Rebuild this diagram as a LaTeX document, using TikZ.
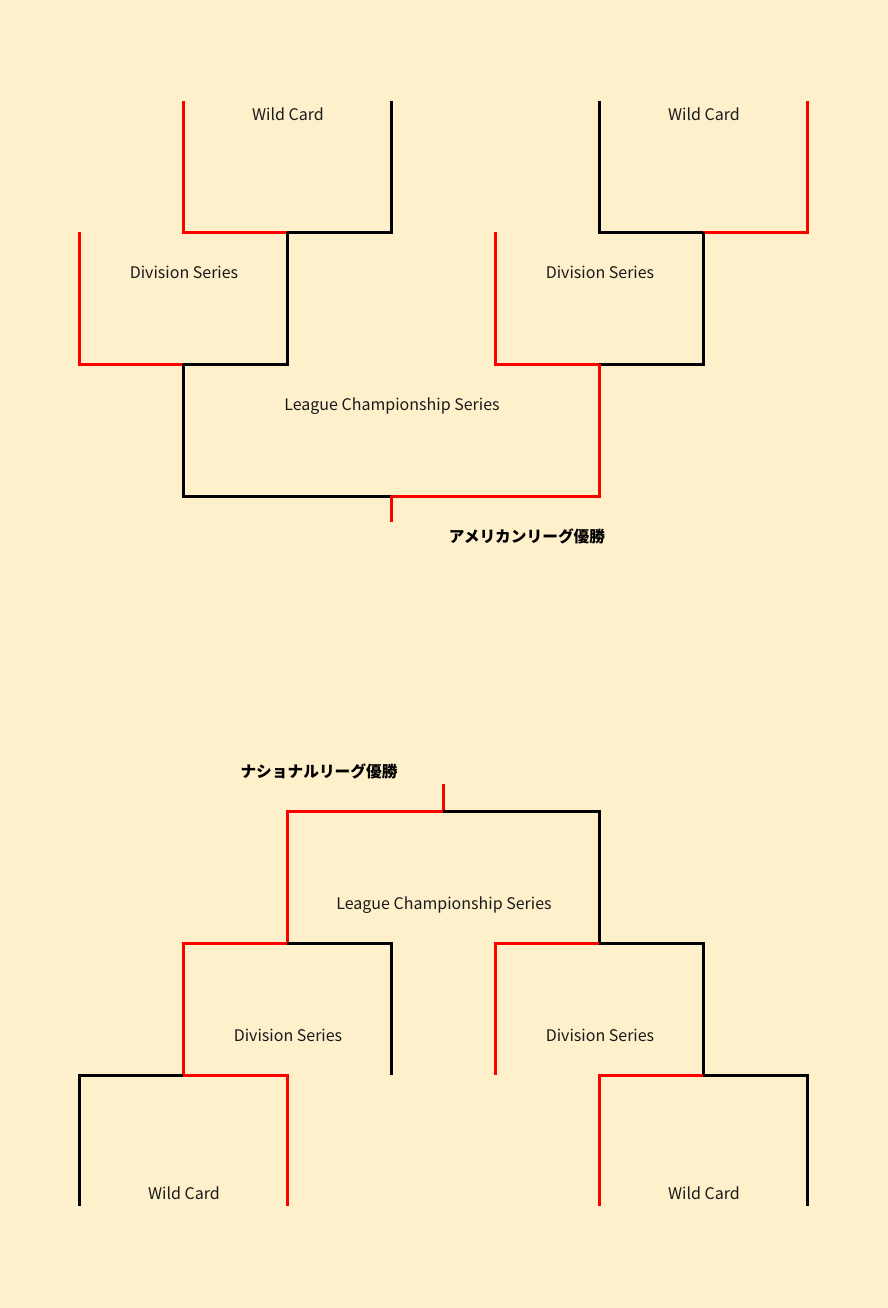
\documentclass[tikz,border=0pt]{standalone}
\usepackage{fontspec}
\setmainfont{Noto Sans CJK JP}
\definecolor{bg}{HTML}{FFF0CC}
\definecolor{win}{HTML}{FF0000}
\definecolor{txt}{HTML}{1A1A1A}
\begin{document}
\begin{tikzpicture}[x=1pt,y=-1pt,
  lose/.style={draw=black,line width=3pt,line join=miter},
  wins/.style={draw=win,line width=3pt,line join=miter},
  lbl/.style={font=\fontsize{16}{18}\selectfont,text=txt,inner sep=0pt},
  champ/.style={font=\fontsize{15.7}{18}\selectfont\bfseries,text=black,inner sep=0pt}]
\fill[bg] (0,0) rectangle (888,1308);
\useasboundingbox (0,0) rectangle (888,1308);
% ---------- American League ----------
% Wild Card left
\draw[wins] (183,101) -- (183,232) -- (287,232);
\draw[lose] (287,232) -- (391,232) -- (391,101);
\node[lbl] (wc1) at (288,114) {Wild Card};
% Wild Card right
\draw[lose] (599,101) -- (599,232) -- (703,232);
\draw[wins] (703,232) -- (807,232) -- (807,101);
\node[lbl] (wc2) at (704,114) {Wild Card};
% Division Series left
\draw[wins] (79,232) -- (79,364) -- (183,364);
\draw[lose] (183,364) -- (287,364) -- (287,232);
\node[lbl] (ds1) at (184,272) {Division Series};
% Division Series right
\draw[wins] (495,232) -- (495,364) -- (599,364);
\draw[lose] (599,364) -- (703,364) -- (703,232);
\node[lbl] (ds2) at (600,272) {Division Series};
% LCS
\draw[lose] (183,364) -- (183,496) -- (391,496);
\draw[wins] (391,496) -- (599,496) -- (599,364);
\node[lbl] (lcs1) at (392,406) {League Championship Series};
% winner
\draw[wins] (391,496) -- (391,522);
\node[champ] (al) at (527,536) {アメリカンリーグ優勝};
% ---------- National League ----------
\node[champ] (nl) at (319,771) {ナショナルリーグ優勝};
\draw[wins] (443,784) -- (443,811);
% LCS
\draw[wins] (443,811) -- (287,811) -- (287,943);
\draw[lose] (443,811) -- (599,811) -- (599,943);
\node[lbl] (lcs2) at (444,905) {League Championship Series};
% Division Series left
\draw[wins] (287,943) -- (183,943) -- (183,1075);
\draw[lose] (287,943) -- (391,943) -- (391,1075);
\node[lbl] (ds3) at (288,1035) {Division Series};
% Division Series right
\draw[wins] (599,943) -- (495,943) -- (495,1075);
\draw[lose] (599,943) -- (703,943) -- (703,1075);
\node[lbl] (ds4) at (600,1035) {Division Series};
% Wild Card left
\draw[lose] (183,1075) -- (79,1075) -- (79,1206);
\draw[wins] (183,1075) -- (287,1075) -- (287,1206);
\node[lbl] (wc3) at (184,1193) {Wild Card};
% Wild Card right
\draw[wins] (703,1075) -- (599,1075) -- (599,1206);
\draw[lose] (703,1075) -- (807,1075) -- (807,1206);
\node[lbl] (wc4) at (704,1193) {Wild Card};
\end{tikzpicture}
\end{document}
